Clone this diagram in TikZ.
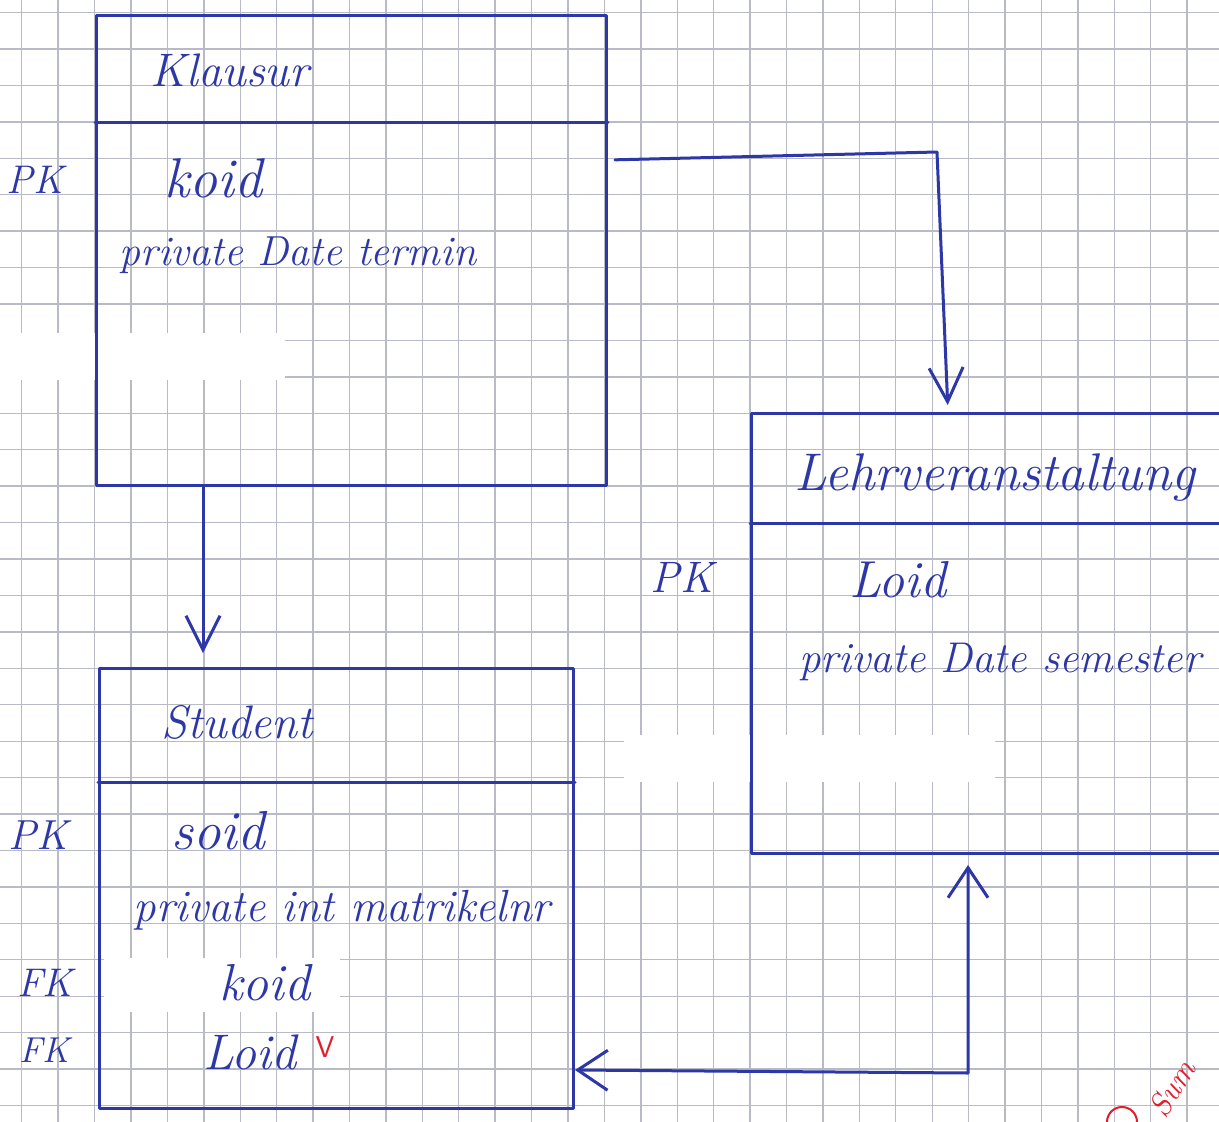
\documentclass[tikz,border=0pt]{standalone}
\usetikzlibrary{arrows.meta,calc}
\definecolor{ink}{RGB}{45,55,165}
\definecolor{gridc}{RGB}{184,186,198}
\definecolor{redink}{RGB}{225,30,45}
\begin{document}
\begin{tikzpicture}[x=1pt,y=-1pt,
  pen/.style={draw=ink,line width=3pt,line cap=round,line join=round},
  entity/.style={pen,rectangle,inner sep=0pt,anchor=north west},
  hand/.style={text=ink,inner sep=0pt,font=\itshape\fontsize{#1}{#1}\selectfont},
  hand/.default=44,
  harrow/.style={pen,-{Straight Barb[length=34pt,width=34pt]}},
  harrows/.style={pen,{Straight Barb[length=30pt,width=40pt]}-{Straight Barb[length=30pt,width=40pt]}},
]
\useasboundingbox (0,0) rectangle (1219,1122);
\clip (0,0) rectangle (1219,1122);
\fill[white] (0,0) rectangle (1219,1122);
% grid paper
\foreach \i in {0,...,33} \draw[gridc,line width=1.4pt] ({21.7+36.42*\i},0) -- ++(0,1122);
\foreach \j in {0,...,30} \draw[gridc,line width=1.4pt] (0,{12.6+36.43*\j}) -- ++(1219,0);
% white-out patches
\fill[white] (0,333) rectangle (285,380);
\fill[white] (624,735) rectangle (995,782);
\fill[white] (104,958) rectangle (340,1012);

% entities
\node[entity,minimum width=510pt,minimum height=470pt] (klausur) at (95,14) {};
\draw[pen] (klausur.west |- 0,122) -- (klausur.east |- 0,122);
\node[entity,minimum width=474pt,minimum height=440pt] (student) at (98,667) {};
\draw[pen] (student.west |- 0,782) -- (student.east |- 0,782);
\node[entity,minimum width=490pt,minimum height=440pt] (lehr) at (750,412) {};
\draw[pen] (lehr.west |- 0,523) -- (lehr.east |- 0,523);

% texts Klausur
\node[hand=47] (tk) at (230,70) {Klausur};
\node[hand=40] (pk1) at (35,180) {PK};
\node[hand=56] (koid1) at (213,178) {koid};
\node[hand=42] (att1) at (298,255) {private Date termin};
% texts Student
\node[hand=47] (ts) at (237,722) {Student};
\node[hand=42] (pk2) at (38,835) {PK};
\node[hand=55] (soid) at (218,831) {soid};
\node[hand=45] (att2) at (342,910) {private int matrikelnr};
\node[hand=40] (fk1) at (45,983) {FK};
\node[hand=52] (koid2) at (265,983) {koid};
\node[hand=36] (fk2) at (45,1050) {FK};
\node[hand=50] (loid2) at (250,1052) {Loid};
\node[text=redink,inner sep=0pt,font=\sffamily\fontsize{30}{30}\selectfont] (chk) at (325,1047) {V};
% texts Lehrveranstaltung
\node[hand=53] (tl) at (995,478) {Lehrveranstaltung};
\node[hand=44] (pk3) at (682,577) {PK};
\node[hand=52] (loid1) at (898,580) {Loid};
\node[hand=43] (att3) at (1000,662) {private Date semester};

% connectors
\coordinate (ka) at (203,0);
\draw[harrow,shorten >=14pt] (klausur.south -| ka) -- (student.north -| ka);
\coordinate (kb) at (0,160);
\coordinate (b1) at (937,152);
\coordinate (b2) at (948,0);
\draw[harrow,shorten <=7pt,shorten >=7pt] (klausur.east |- kb) -- (b1) -- (lehr.north -| b2);
\coordinate (c1) at (968,1073);
\coordinate (c0) at (0,1070);
\draw[harrows,shorten >=10pt] (student.east |- c0) -- (c1) -- (lehr.south -| c1);

% red marks bottom right
\node[text=redink,inner sep=0pt,font=\itshape\fontsize{32}{32}\selectfont,rotate=58] (sum) at (1172,1088) {Sum};
\draw[redink,line width=2pt] (1122,1122) circle (15);
\end{tikzpicture}
\end{document}
